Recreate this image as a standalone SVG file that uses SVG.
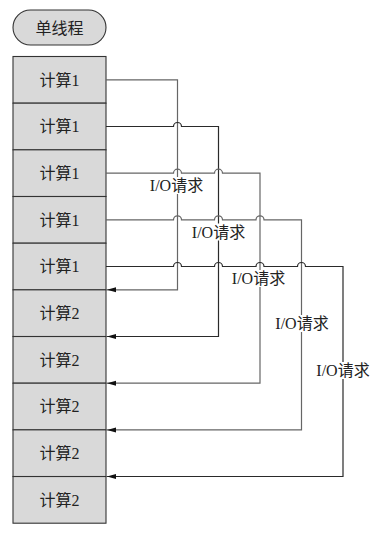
<svg xmlns="http://www.w3.org/2000/svg" width="391" height="534" viewBox="0 0 391 534">
  <defs>
    <style>
      .box { fill: #d9d9d9; stroke: #333; stroke-width: 1.1; }
      .txt { font-family: "Liberation Serif", "Noto Sans CJK SC", serif; font-size: 16px; fill: #222; text-anchor: middle; }
      .gray { fill: none; stroke: #666; stroke-width: 1.2; }
      .dark { fill: none; stroke: #2a2a2a; stroke-width: 1.2; }
      .lblbg { fill: #fff; }
    </style>
    <marker id="arr" markerUnits="userSpaceOnUse" markerWidth="10" markerHeight="6" refX="9" refY="3" orient="auto">
      <path d="M0,0.5 L9,3 L0,5.5 Z" fill="#111"/>
    </marker>
  </defs>
  <rect width="391" height="534" fill="#fff"/>

  <g id="title">
    <rect class="box" x="13" y="10" width="93" height="35" rx="17.5"/>
    <text class="txt" x="59.5" y="34">单线程</text>
  </g>

  <g id="c1a"><rect class="box" x="13" y="56.5" width="93" height="46.67"/><text class="txt" x="59.5" y="85.5">计算1</text></g>
  <g id="c1b"><rect class="box" x="13" y="103.17" width="93" height="46.67"/><text class="txt" x="59.5" y="132.2">计算1</text></g>
  <g id="c1c"><rect class="box" x="13" y="149.84" width="93" height="46.67"/><text class="txt" x="59.5" y="178.9">计算1</text></g>
  <g id="c1d"><rect class="box" x="13" y="196.51" width="93" height="46.67"/><text class="txt" x="59.5" y="225.5">计算1</text></g>
  <g id="c1e"><rect class="box" x="13" y="243.18" width="93" height="46.67"/><text class="txt" x="59.5" y="272.2">计算1</text></g>
  <g id="c2a"><rect class="box" x="13" y="289.85" width="93" height="46.67"/><text class="txt" x="59.5" y="318.9">计算2</text></g>
  <g id="c2b"><rect class="box" x="13" y="336.52" width="93" height="46.67"/><text class="txt" x="59.5" y="365.5">计算2</text></g>
  <g id="c2c"><rect class="box" x="13" y="383.19" width="93" height="46.67"/><text class="txt" x="59.5" y="412.2">计算2</text></g>
  <g id="c2d"><rect class="box" x="13" y="429.86" width="93" height="46.67"/><text class="txt" x="59.5" y="458.9">计算2</text></g>
  <g id="c2e"><rect class="box" x="13" y="476.53" width="93" height="46.67"/><text class="txt" x="59.5" y="505.5">计算2</text></g>

  <g id="connectors">
    <path class="gray" d="M106,79.8 H177.5 V289.85 H107" marker-end="url(#arr)"/>
    <path class="dark" d="M106,126.5 H173.5 a4,4 0 0 1 8,0 H218.5 V336.5 H107" marker-end="url(#arr)"/>
    <path class="gray" d="M106,173.2 H173.5 a4,4 0 0 1 8,0 H214.5 a4,4 0 0 1 8,0 H260 V383.2 H107" marker-end="url(#arr)"/>
    <path class="gray" d="M106,219.8 H173.5 a4,4 0 0 1 8,0 H214.5 a4,4 0 0 1 8,0 H256 a4,4 0 0 1 8,0 H301.5 V429.9 H107" marker-end="url(#arr)"/>
    <path class="dark" d="M106,266.5 H173.5 a4,4 0 0 1 8,0 H214.5 a4,4 0 0 1 8,0 H256 a4,4 0 0 1 8,0 H297.5 a4,4 0 0 1 8,0 H343 V476.5 H107" marker-end="url(#arr)"/>
  </g>

  <g id="labels">
    <g id="io1"><rect class="lblbg" x="150" y="177" width="53" height="17"/><text class="txt" x="176.5" y="191">I/O请求</text></g>
    <g id="io2"><rect class="lblbg" x="192" y="223.5" width="53" height="17"/><text class="txt" x="218.5" y="237.5">I/O请求</text></g>
    <g id="io3"><rect class="lblbg" x="232" y="270" width="53" height="17"/><text class="txt" x="258.5" y="284">I/O请求</text></g>
    <g id="io4"><rect class="lblbg" x="275.5" y="315" width="53" height="17"/><text class="txt" x="302" y="329">I/O请求</text></g>
    <g id="io5"><rect class="lblbg" x="316.5" y="362" width="53" height="17"/><text class="txt" x="343" y="376">I/O请求</text></g>
  </g>
</svg>
